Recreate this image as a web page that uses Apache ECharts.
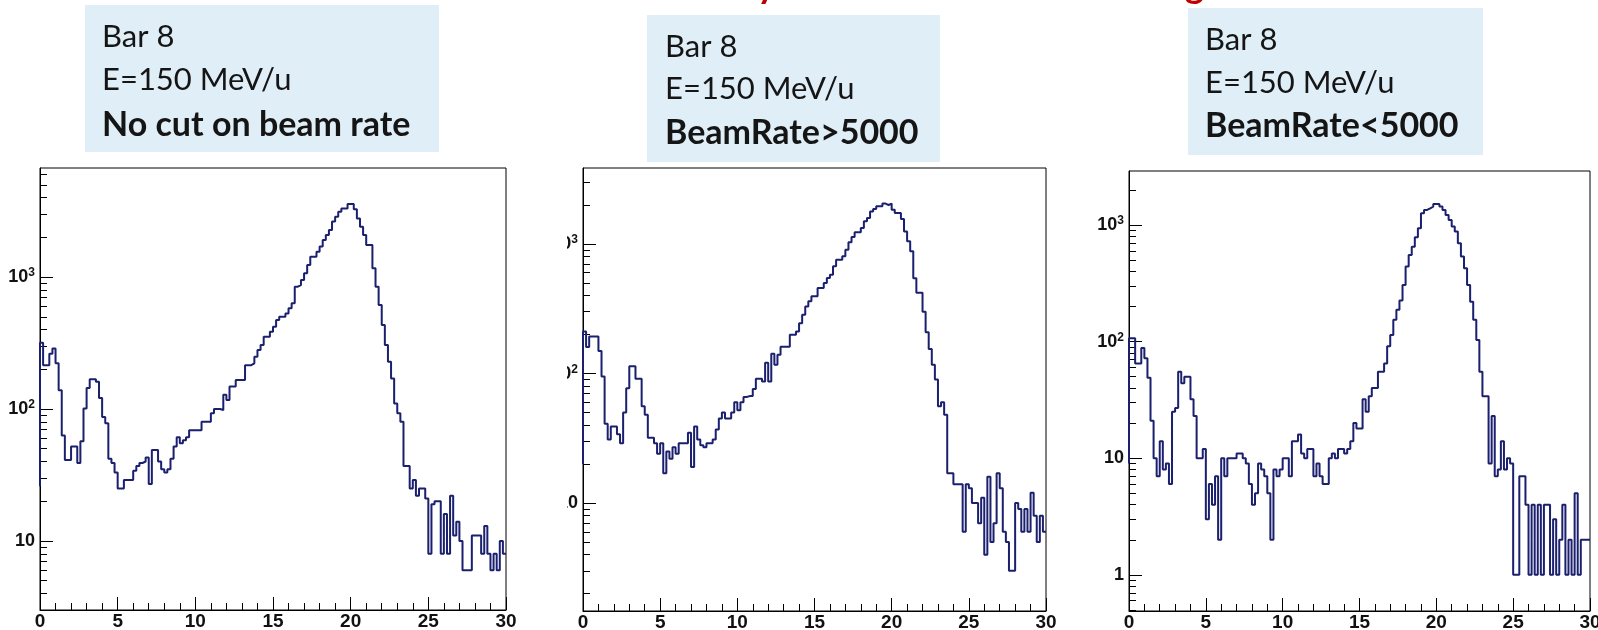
<!DOCTYPE html>
<html>
<head>
<meta charset="utf-8">
<script src="https://cdn.jsdelivr.net/npm/echarts@6/dist/echarts.min.js"></script>
<style>
  html, body { margin: 0; padding: 0; background: #ffffff; }
  #chart { width: 1598px; height: 630px; }
</style>
</head>
<body>
<div id="chart"></div>
<script>
// Energy spectra of bar 8 at 150 MeV/u: 150 bins of 0.2 between 0 and 30
const binWidth = 0.2;
const xMin = 0;
const xMax = 30;
const xTickStep = 5;

const countsNoCut = [
  318, 215, 215, 262, 288, 222, 139, 63, 41, 41,
  52, 52, 39, 57, 101, 144, 168, 168, 161, 121,
  87, 78, 42, 39, 33, 25, 25, 29, 29, 29,
  34, 37, 39, 40, 43, 27, 49, 49, 40, 35,
  33, 35, 42, 52, 61, 55, 58, 61, 69, 69,
  69, 69, 80, 80, 80, 93, 100, 100, 98, 128,
  117, 148, 148, 166, 166, 166, 215, 215, 222, 249,
  280, 305, 353, 353, 385, 420, 472, 500, 500, 530,
  580, 632, 845, 870, 950, 1070, 1232, 1425, 1425, 1555,
  1700, 1905, 2080, 2270, 2630, 2865, 3125, 3310, 3310, 3570,
  3570, 3260, 2780, 2400, 2080, 1750, 1750, 1163, 845, 613,
  433, 305, 228, 170, 110, 93, 80, 37, 37, 25,
  29, 22, 25, 25, 21, 8, 19, 20, 20, 8,
  16, 8, 22, 11, 14, 10, 6, 6, 6, 11,
  11, 11, 8, 13, 8, 6, 8, 6, 10, 8
];

const countsHighRate = [
  211, 160, 193, 193, 193, 149, 95, 41, 31, 39,
  39, 34, 29, 50, 77, 114, 114, 91, 91, 56,
  48, 32, 32, 29, 24, 29, 17, 25, 22, 27,
  24, 29, 29, 29, 35, 19, 39, 31, 28, 27,
  29, 29, 31, 37, 45, 50, 45, 45, 50, 60,
  52, 60, 66, 67, 67, 76, 91, 91, 87, 121,
  87, 142, 117, 140, 161, 161, 161, 199, 199, 211,
  245, 285, 330, 361, 395, 395, 457, 457, 500, 546,
  580, 672, 757, 757, 803, 904, 1030, 1130, 1230, 1230,
  1330, 1500, 1590, 1780, 1860, 1960, 1960, 2050, 2000, 2050,
  1840, 1735, 1735, 1560, 1250, 1050, 880, 545, 420, 420,
  300, 208, 155, 117, 90, 56, 60, 48, 17, 17,
  14, 14, 14, 6, 14, 13, 10, 10, 7, 11,
  4, 16, 5, 7, 17, 13, 6, 5, 3, 3,
  10, 9, 6, 9, 6, 12, 8, 5, 8, 6
];

const countsLowRate = [
  107, 107, 65, 65, 88, 72, 49, 21, 10, 7,
  14, 8, 9, 6, 25, 27, 55, 44, 50, 50,
  32, 23, 10, 10, 12, 3, 6, 4, 7, 2,
  10, 7, 10, 10, 10, 11, 11, 10, 9, 6,
  4, 5, 9, 8, 7, 5, 2, 8, 7, 8,
  10, 10, 7, 14, 14, 16, 11, 10, 12, 12,
  7, 9, 7, 6, 6, 10, 11, 10, 12, 12,
  11, 12, 14, 20, 18, 18, 32, 25, 34, 40,
  40, 55, 55, 65, 91, 114, 154, 187, 225, 306,
  440, 553, 650, 784, 936, 1258, 1345, 1389, 1436, 1513,
  1513, 1436, 1345, 1219, 1104, 968, 877, 696, 535, 425,
  306, 220, 154, 103, 55, 34, 34, 9, 23, 7,
  8, 14, 8, 10, 9, 1, 1, 7, 7, 4,
  1, 4, 1, 4, 1, 4, 4, 1, 3, 1,
  2, 4, 1, 2, 1, 5, 1, 2, 2, 2
];

// level at which each outline rises at x = 0
const leadInLevels = [26, 20, 9];

// y ranges of the three log axes
const yRanges = [[3.0, 6700], [1.47, 3860], [0.49, 2900]];
const decadeValues = [1, 10, 100, 1000];
const minorMantissas = [2, 3, 4, 5, 6, 7, 8, 9];

const headerLines = ['Bar 8', 'E=150 MeV/u'];
const cutLabels = ['No cut on beam rate', 'BeamRate>5000', 'BeamRate<5000'];

// ---------------------------------------------------------------------------
const panelCounts = [countsNoCut, countsHighRate, countsLowRate];

const gridBoxes = [
  { left: 40, top: 168, width: 466, height: 442 },
  { left: 583, top: 168, width: 463, height: 443 },
  { left: 1129, top: 171, width: 461, height: 440 }
];

const labelBoxes = [
  { x: 85, y: 5, w: 354, h: 147, tx: 102, lines: [37, 80, 125] },
  { x: 647, y: 15, w: 293, h: 147, tx: 665, lines: [47, 89, 133] },
  { x: 1188, y: 8, w: 295, h: 147, tx: 1205, lines: [40, 83, 126] }
];

const lineColor = '#1a1f6e';
const axisFont = '"Liberation Sans", Arial, Helvetica, sans-serif';
const boxFont = 'Lato, "Open Sans", sans-serif';

function outlinePoints(counts, lead) {
  const pts = [[xMin, lead]];
  counts.forEach((c, i) => pts.push([+(xMin + i * binWidth).toFixed(4), c]));
  pts.push([+(xMin + counts.length * binWidth).toFixed(4), counts[counts.length - 1]]);
  return pts;
}

function decadesIn(lo, hi) {
  return decadeValues.filter(v => v >= lo && v <= hi);
}

function minorsIn(lo, hi) {
  const out = [];
  for (let e = -1; e <= 4; e++) {
    minorMantissas.forEach(m => {
      const v = m * Math.pow(10, e);
      if (v > lo && v < hi) out.push(+v.toPrecision(6));
    });
  }
  return out;
}

function decadeLabel(v) {
  const e = Math.round(Math.log10(v));
  if (e === 0) return '{b|1}';
  if (e === 1) return '{b|10}';
  return '{b|10}{sup|' + e + '}';
}

const grid = [], xAxis = [], yAxis = [], series = [];

gridBoxes.forEach((g, k) => {
  grid.push(Object.assign({
    show: true, borderColor: '#000', borderWidth: 1,
    backgroundColor: 'transparent', containLabel: false,
    outerBoundsMode: 'none'
  }, g));

  xAxis.push({
    gridIndex: k, type: 'value', min: xMin, max: xMax, interval: xTickStep,
    axisLine: { show: true, onZero: false, lineStyle: { color: '#000', width: 1 } },
    axisTick: { show: true, inside: true, length: 13, lineStyle: { color: '#000', width: 1 } },
    minorTick: { show: true, splitNumber: 5, length: 7, lineStyle: { color: '#000', width: 1 } },
    axisLabel: { color: '#111', fontSize: 19, fontWeight: 'bold', margin: 2, fontFamily: axisFont },
    splitLine: { show: false }, minorSplitLine: { show: false }
  });

  const [lo, hi] = yRanges[k];
  const majors = decadesIn(lo, hi);
  const majorIndex = yAxis.length;
  yAxis.push({
    gridIndex: k, type: 'log', logBase: 10, min: lo, max: hi, position: 'left',
    axisLine: { show: true, onZero: false, lineStyle: { color: '#000', width: 1 } },
    axisTick: { show: true, inside: true, length: 13, customValues: majors,
                lineStyle: { color: '#000', width: 1 } },
    axisLabel: {
      show: true, customValues: majors, margin: 5, color: '#111',
      fontSize: 18, fontFamily: axisFont, formatter: decadeLabel,
      rich: {
        b: { fontSize: 18, fontWeight: 'bold', fontFamily: axisFont, color: '#111' },
        sup: { fontSize: 12, fontWeight: 'bold', fontFamily: axisFont, color: '#111',
               verticalAlign: 'top', padding: [0, 0, 8, 0] }
      }
    },
    splitLine: { show: false }
  });
  yAxis.push({
    gridIndex: k, type: 'log', logBase: 10, min: lo, max: hi, position: 'left',
    axisLine: { show: false },
    axisTick: { show: true, inside: true, length: 7, customValues: minorsIn(lo, hi),
                lineStyle: { color: '#000', width: 1 } },
    axisLabel: { show: false },
    splitLine: { show: false }
  });

  series.push({
    type: 'line', xAxisIndex: k, yAxisIndex: majorIndex,
    data: outlinePoints(panelCounts[k], leadInLevels[k]),
    step: 'end', symbol: 'none', silent: true, clip: true,
    lineStyle: { color: lineColor, width: 2 }
  });
});

const graphic = [];
labelBoxes.forEach((b, k) => {
  graphic.push({ type: 'rect', z: 10, shape: { x: b.x, y: b.y, width: b.w, height: b.h },
                 style: { fill: '#dfeef7' } });
  const texts = [headerLines[0], headerLines[1], cutLabels[k]];
  texts.forEach((t, j) => {
    graphic.push({ type: 'text', z: 11,
      style: { text: t, x: b.tx, y: b.lines[j], fill: '#151515',
               font: (j === 2 ? 'bold 34px ' : '31px ') + boxFont,
               align: 'left', verticalAlign: 'middle' } });
  });
});
// the middle panel's tick labels are trimmed on their left side
graphic.push({ type: 'rect', z: 10, shape: { x: 520, y: 165, width: 47, height: 430 },
               style: { fill: '#ffffff' } });
// descenders of the red heading that runs above the page
graphic.push({ type: 'text', z: 11, style: { text: 'y', x: 757, y: -14, fill: '#c00000',
               font: 'bold 36px ' + boxFont, align: 'left', verticalAlign: 'middle' } });
graphic.push({ type: 'text', z: 11, style: { text: 'g', x: 1185, y: -14, fill: '#c00000',
               font: 'bold 36px ' + boxFont, align: 'left', verticalAlign: 'middle' } });

const chart = echarts.init(document.getElementById('chart'), null, { renderer: 'canvas' });
chart.setOption({
  animation: false,
  backgroundColor: '#ffffff',
  grid, xAxis, yAxis, series, graphic
});
</script>
</body>
</html>
